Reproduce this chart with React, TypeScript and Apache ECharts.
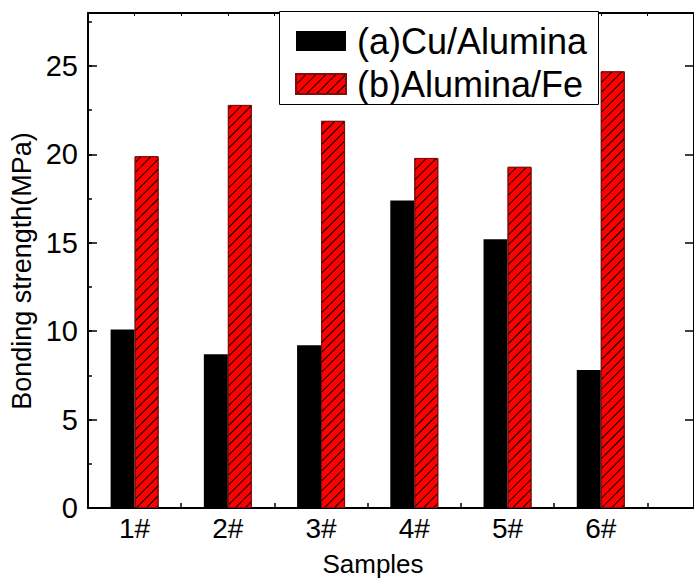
import React, { useEffect, useRef } from 'react';
import * as echarts from 'echarts';

const categories = ['1#', '2#', '3#', '4#', '5#', '6#'];
const seriesNames = ['(a)Cu/Alumina', '(b)Alumina/Fe'];
const cuAlumina = [10.1, 8.7, 9.2, 17.4, 15.2, 7.8];
const aluminaFe = [19.9, 22.8, 21.9, 19.8, 19.3, 24.7];
const xAxisTitle = 'Samples';
const yAxisTitle = 'Bonding strength(MPa)';

const FONT = "'Liberation Sans', Arial, Helvetica, sans-serif";

export default function App() {
  const ref = useRef<HTMLDivElement>(null);

  useEffect(() => {
    if (!ref.current) return;
    const chart = echarts.init(ref.current, null, { renderer: 'svg' });
    const labelPos = categories.map((_, i) => i + 1);
    const tickPos = categories.map((_, i) => i + 1.5);
    const option: any = {
      animation: false,
      backgroundColor: '#fff',
      grid: { left: 88, top: 13, width: 613, height: 495 },
      legend: {
        orient: 'vertical',
        left: 295,
        top: 23,
        padding: 0,
        itemWidth: 50,
        itemHeight: 20,
        itemGap: 7,
        icon: 'rect',
        z: 6,
        textStyle: { fontSize: 36, fontFamily: FONT, color: '#000', padding: [0, 0, 0, 6] },
        data: seriesNames,
      },
      xAxis: [
        {
          type: 'value',
          position: 'bottom',
          min: 0.5,
          max: 7,
          axisLine: { show: true, onZero: false, lineStyle: { color: '#000', width: 2 } },
          axisTick: { show: true, inside: true, length: 5, customValues: tickPos, lineStyle: { color: '#000', width: 1.5 } },
          axisLabel: {
            customValues: labelPos,
            formatter: (v: number) => categories[Math.round(v) - 1] ?? '',
            fontSize: 28,
            fontFamily: FONT,
            color: '#000',
            margin: 6,
          },
          splitLine: { show: false },
        },
        {
          type: 'value',
          position: 'top',
          min: 0.5,
          max: 7,
          interval: 0.5,
          axisLine: { show: true, onZero: false, lineStyle: { color: '#000', width: 2 } },
          axisTick: { show: true, inside: true, length: 3, lineStyle: { color: '#000', width: 1 } },
          axisLabel: { show: false },
          splitLine: { show: false },
        },
      ],
      yAxis: [
        {
          type: 'value',
          position: 'left',
          min: 0,
          max: 28,
          interval: 5,
          axisLine: { show: true, onZero: false, lineStyle: { color: '#000', width: 2 } },
          axisTick: { show: true, inside: true, length: 9, lineStyle: { color: '#000', width: 1.5 } },
          axisLabel: {
            formatter: (v: number) => (v % 5 === 0 ? String(v) : ''),
            fontSize: 29,
            fontFamily: FONT,
            color: '#000',
            margin: 10,
          },
          splitLine: { show: false },
        },
        {
          type: 'value',
          position: 'left',
          min: 0,
          max: 28,
          interval: 2.5,
          axisLine: { show: false },
          axisTick: { show: true, inside: true, length: 4, lineStyle: { color: '#000', width: 1.5 } },
          axisLabel: { show: false },
          splitLine: { show: false },
        },
        {
          type: 'value',
          position: 'right',
          min: 0,
          max: 28,
          interval: 5,
          axisLine: { show: true, onZero: false, lineStyle: { color: '#000', width: 2 } },
          axisTick: { show: true, inside: true, length: 9, lineStyle: { color: '#000', width: 1.5 } },
          axisLabel: { show: false },
          splitLine: { show: false },
        },
      ],
      graphic: [
        {
          type: 'rect',
          z: 5,
          shape: { x: 279.5, y: 11.5, width: 319, height: 93 },
          style: { fill: '#fff', stroke: '#000', lineWidth: 1 },
        },
        {
          type: 'text',
          x: 373,
          y: 564,
          style: { text: xAxisTitle, align: 'center', verticalAlign: 'middle', fontSize: 26, fontFamily: FONT, fill: '#000' },
        },
        {
          type: 'text',
          x: 22,
          y: 271,
          rotation: Math.PI / 2,
          style: { text: yAxisTitle, align: 'center', verticalAlign: 'middle', fontSize: 27, fontFamily: FONT, fill: '#000' },
        },
      ],
      series: [
        {
          name: seriesNames[0],
          type: 'bar',
          xAxisIndex: 0,
          yAxisIndex: 0,
          barWidth: 24,
          barGap: '0%',
          itemStyle: { color: '#000' },
          data: cuAlumina.map((v, i) => [i + 1, v]),
        },
        {
          name: seriesNames[1],
          type: 'bar',
          xAxisIndex: 0,
          yAxisIndex: 0,
          barWidth: 24,
          barGap: '0%',
          itemStyle: {
            color: '#ff0000',
            borderColor: '#7a1010',
            borderWidth: 1,
            decal: {
              symbol: 'rect',
              symbolSize: 1,
              color: '#000',
              dashArrayX: [1, 0],
              dashArrayY: [1, 6],
              rotation: -Math.PI / 4,
            },
          },
          data: aluminaFe.map((v, i) => [i + 1, v]),
        },
      ],
    };
    chart.setOption(option);
    return () => chart.dispose();
  }, []);

  return <div ref={ref} style={{ position: 'fixed', left: 0, top: 0, width: 694, height: 579 }} />;
}
